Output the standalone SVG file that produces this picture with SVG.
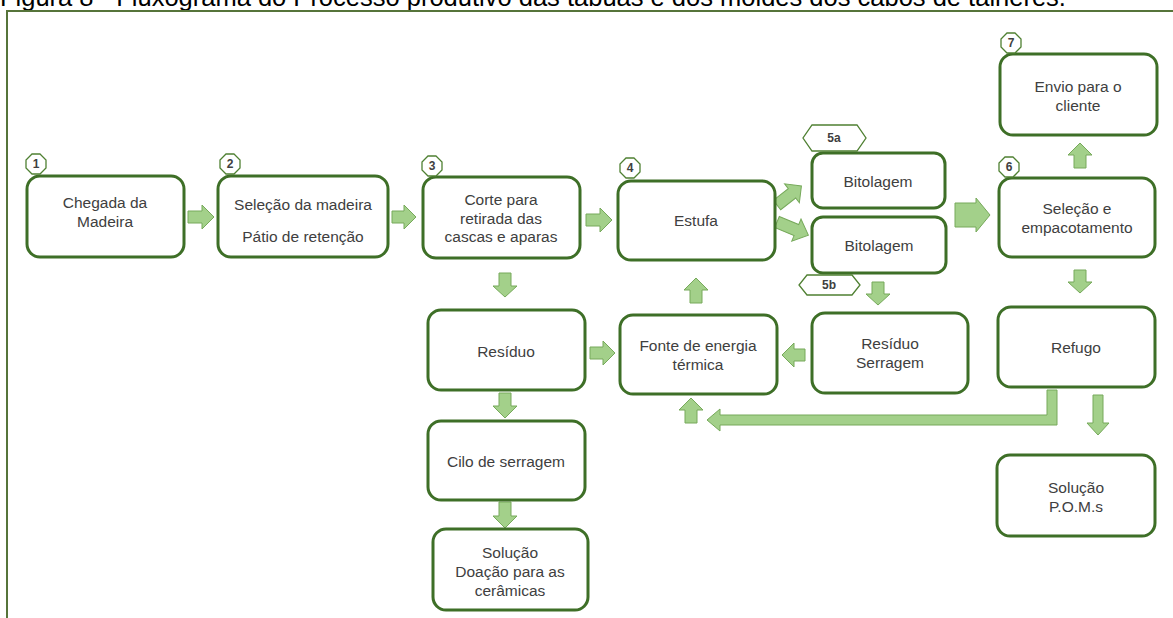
<svg xmlns="http://www.w3.org/2000/svg" width="1173" height="618" viewBox="0 0 1173 618">
<style>
.box{fill:#fff;stroke:#3e6f27;stroke-width:3}
.t{font-family:"Liberation Sans",Arial,sans-serif;font-size:15.5px;fill:#404040;text-anchor:middle}
.badge{fill:#fff;stroke:#4f8032;stroke-width:1.3}
.bt{font-family:"Liberation Sans",Arial,sans-serif;font-size:12px;font-weight:bold;fill:#404040;text-anchor:middle}
.arr{fill:#a3d08a;stroke:#76a95a;stroke-width:1}
.frame{stroke:#56743a;stroke-width:2;fill:none}
.cap{font-family:"Liberation Sans",Arial,sans-serif;font-size:25.5px;fill:#000}
</style>
<rect width="1173" height="618" fill="#fff"/>
<text class="cap" x="0" y="6">Figura 8 - Fluxograma do Processo produtivo das tábuas e dos moldes dos cabos de talheres.</text>
<path class="frame" d="M7,618 V11 H1173"/>

<g id="connectors">
  <polygon class="arr" points="188,211 202,211 202,205 214,217 202,229 202,223 188,223"/>
  <polygon class="arr" points="392,211 404,211 404,205 416,217 404,229 404,223 392,223"/>
  <polygon class="arr" points="586,214 600,214 600,208 612,220 600,232 600,226 586,226"/>
  <polygon class="arr" points="955,203 976,203 976,198 990,215 976,232 976,227 955,227"/>
  <polygon class="arr" transform="translate(777,205) rotate(-38)" points="0,-6 19,-6 19,-12 31,0 19,12 19,6 0,6"/>
  <polygon class="arr" transform="translate(777,222) rotate(22.7)" points="0,-6 21,-6 21,-12 34,0 21,12 21,6 0,6"/>
  <polygon class="arr" points="499,273 511,273 511,286 517,286 505,297 493,286 499,286"/>
  <polygon class="arr" points="690,303 702,303 702,290 708,290 696,278 684,290 690,290"/>
  <polygon class="arr" points="1074,168 1086,168 1086,155 1092,155 1080,143 1068,155 1074,155"/>
  <polygon class="arr" points="1074,270 1086,270 1086,282 1092,282 1080,293 1068,282 1074,282"/>
  <polygon class="arr" points="872,282 884,282 884,294 890,294 878,305 866,294 872,294"/>
  <polygon class="arr" points="805,349 794,349 794,343 782,355 794,367 794,361 805,361"/>
  <polygon class="arr" points="590,347 603,347 603,341 615,353 603,365 603,359 590,359"/>
  <polygon class="arr" points="499,393 511,393 511,406 517,406 505,418 493,406 499,406"/>
  <polygon class="arr" points="499,502 511,502 511,516 517,516 505,528 493,516 499,516"/>
  <polygon class="arr" points="1093,395 1103,395 1103,423 1109,423 1098,435 1087,423 1093,423"/>
  <polygon class="arr" points="685,423 697,423 697,410 703,410 691,398 679,410 685,410"/>
  <polygon class="arr" points="1047,390 1057,390 1057,425 720,425 720,431 707,420 720,409 720,415 1047,415"/>
</g>

<g id="n1">
  <rect class="box" x="27" y="176" width="157" height="81" rx="13"/>
  <text class="t" x="105" y="208">Chegada da</text>
  <text class="t" x="105" y="227">Madeira</text>
  <polygon class="badge" points="40,154 46,160 46,168 40,174 32,174 26,168 26,160 32,154"/>
  <text class="bt" x="36" y="168">1</text>
</g>
<g id="n2">
  <rect class="box" x="218" y="176" width="170" height="81" rx="13"/>
  <text class="t" x="303" y="210">Seleção da madeira</text>
  <text class="t" x="303" y="242">Pátio de retenção</text>
  <polygon class="badge" points="234,154 240,160 240,168 234,174 226,174 220,168 220,160 226,154"/>
  <text class="bt" x="230" y="168">2</text>
</g>
<g id="n3">
  <rect class="box" x="423" y="177" width="157" height="81" rx="13"/>
  <text class="t" x="501" y="205">Corte para</text>
  <text class="t" x="501" y="223.5">retirada das</text>
  <text class="t" x="501" y="242">cascas e aparas</text>
  <polygon class="badge" points="436,156 442,162 442,170 436,176 428,176 422,170 422,162 428,156"/>
  <text class="bt" x="432" y="170">3</text>
</g>
<g id="n4">
  <rect class="box" x="618" y="181" width="157" height="79" rx="13"/>
  <text class="t" x="696" y="225.5">Estufa</text>
  <polygon class="badge" points="634,158 640,164 640,172 634,178 626,178 620,172 620,164 626,158"/>
  <text class="bt" x="630" y="172">4</text>
</g>
<g id="n5a">
  <rect class="box" x="812" y="153" width="133" height="55" rx="11"/>
  <text class="t" x="878" y="186.5">Bitolagem</text>
  <polygon class="badge" points="812,125 857,125 866,138 857,151 812,151 803,138"/>
  <text class="bt" x="834" y="142">5a</text>
</g>
<g id="n5b">
  <rect class="box" x="812" y="217" width="134" height="56" rx="11"/>
  <text class="t" x="879" y="250.5">Bitolagem</text>
  <polygon class="badge" points="807,275 852,275 860,285 852,295 807,295 799,285"/>
  <text class="bt" x="829" y="289">5b</text>
</g>
<g id="n6">
  <rect class="box" x="999" y="178" width="156" height="79" rx="13"/>
  <text class="t" x="1077" y="214">Seleção e</text>
  <text class="t" x="1077" y="233">empacotamento</text>
  <polygon class="badge" points="1013,157 1019,163 1019,171 1013,177 1005,177 999,171 999,163 1005,157"/>
  <text class="bt" x="1009" y="171">6</text>
</g>
<g id="n7">
  <rect class="box" x="1000" y="54" width="157" height="81" rx="13"/>
  <text class="t" x="1078" y="92">Envio para o</text>
  <text class="t" x="1078" y="111">cliente</text>
  <polygon class="badge" points="1015,33 1021,39 1021,47 1015,53 1007,53 1001,47 1001,39 1007,33"/>
  <text class="bt" x="1011" y="47">7</text>
</g>
<g id="refugo">
  <rect class="box" x="998" y="307" width="157" height="80" rx="13"/>
  <text class="t" x="1076" y="352.5">Refugo</text>
</g>
<g id="residuo-serragem">
  <rect class="box" x="812" y="313" width="156" height="80" rx="13"/>
  <text class="t" x="890" y="348.5">Resíduo</text>
  <text class="t" x="890" y="367.5">Serragem</text>
</g>
<g id="fonte">
  <rect class="box" x="620" y="315" width="157" height="79" rx="13"/>
  <text class="t" x="698" y="350.5">Fonte de energia</text>
  <text class="t" x="698" y="369.5">térmica</text>
</g>
<g id="residuo">
  <rect class="box" x="428" y="310" width="157" height="80" rx="13"/>
  <text class="t" x="506" y="356.5">Resíduo</text>
</g>
<g id="cilo">
  <rect class="box" x="428" y="421" width="157" height="79" rx="13"/>
  <text class="t" x="506" y="466.5">Cilo de serragem</text>
</g>
<g id="doacao">
  <rect class="box" x="433" y="529" width="155" height="81" rx="13"/>
  <text class="t" x="510" y="557.5">Solução</text>
  <text class="t" x="510" y="576.5">Doação para as</text>
  <text class="t" x="510" y="595.5">cerâmicas</text>
</g>
<g id="poms">
  <rect class="box" x="997" y="455" width="158" height="81" rx="13"/>
  <text class="t" x="1076" y="492.5">Solução</text>
  <text class="t" x="1076" y="511.5">P.O.M.s</text>
</g>
</svg>
